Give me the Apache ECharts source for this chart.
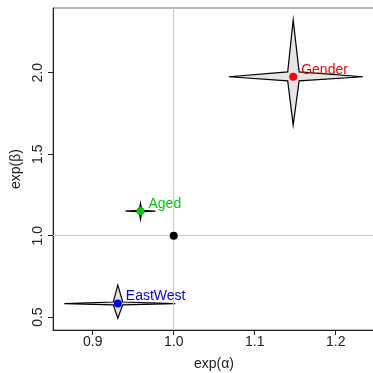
<!DOCTYPE html>
<html>
<head>
<meta charset="utf-8">
<script src="https://cdn.jsdelivr.net/npm/echarts@6/dist/echarts.min.js"></script>
<style>
  html, body { margin: 0; padding: 0; background: #fff; }
  #chart { width: 373px; height: 373px; }
</style>
</head>
<body>
<div id="chart"></div>
<script>
// estimates and interval ends
const names = ['Gender', 'Aged', 'EastWest'];
const alphaEst = [1.1475, 0.959, 0.931];
const betaEst = [1.975, 1.151, 0.583];
const alphaLo = [1.068, 0.9405, 0.865];
const alphaHi = [1.2336, 0.9775, 1.002];
const betaLo = [1.678, 1.100, 0.494];
const betaHi = [2.324, 1.198, 0.696];
const pointColors = ['#ff0000', '#00cd00', '#0000ff'];
const refPoint = [1, 1];
const xTicks = [0.9, 1.0, 1.1, 1.2];
const yTicks = [0.5, 1.0, 1.5, 2.0];

const FONT = '"Liberation Sans", Arial, sans-serif';
const chart = echarts.init(document.getElementById('chart'));

const starData = names.map((n, i) => [alphaEst[i], betaEst[i], alphaLo[i], alphaHi[i], betaLo[i], betaHi[i]]);
const pointData = names.map((n, i) => ({
  value: [alphaEst[i], betaEst[i]],
  name: n,
  itemStyle: { color: pointColors[i] },
  label: { color: pointColors[i] },
}));

// four-pointed star: tips at interval ends, waist near the estimate
function renderStar(params, api) {
  const c = api.coord([api.value(0), api.value(1)]);
  const l = api.coord([api.value(2), api.value(1)]);
  const r = api.coord([api.value(3), api.value(1)]);
  const b = api.coord([api.value(0), api.value(4)]);
  const t = api.coord([api.value(0), api.value(5)]);
  const k = 0.085;
  const dr = (r[0] - c[0]) * k, dl = (c[0] - l[0]) * k;
  const dt = (c[1] - t[1]) * k, db = (b[1] - c[1]) * k;
  return {
    type: 'polygon',
    shape: {
      points: [
        r, [c[0] + dr, c[1] - dt], t, [c[0] - dl, c[1] - dt],
        l, [c[0] - dl, c[1] + db], b, [c[0] + dr, c[1] + db],
      ],
    },
    style: { fill: '#e5e5e5', stroke: '#000', lineWidth: 1.2 },
  };
}

const dotStyle = { opacity: 1, borderWidth: 0 };

chart.setOption({
  animation: false,
  grid: {
    left: 53, top: 8, right: -2, bottom: 43,
    outerBoundsMode: 'none',
    containLabel: false,
    show: true, borderColor: '#777', borderWidth: 1,
  },
  xAxis: {
    type: 'value',
    min: 0.851, max: 1.2485,
    name: 'exp(α)',
    nameLocation: 'middle',
    nameGap: 27,
    nameTextStyle: { fontFamily: FONT, fontSize: 14, color: '#222' },
    axisLine: { show: true, onZero: false, lineStyle: { color: '#222', width: 1 } },
    axisTick: { show: true, length: 5, customValues: xTicks, lineStyle: { color: '#222' } },
    axisLabel: {
      customValues: xTicks,
      margin: 5,
      fontFamily: FONT, fontSize: 14, color: '#222',
      formatter: v => v.toFixed(1),
    },
    splitLine: { show: false },
  },
  yAxis: {
    type: 'value',
    min: 0.421, max: 2.397,
    name: 'exp(β)',
    nameLocation: 'middle',
    nameGap: 29,
    nameTextStyle: { fontFamily: FONT, fontSize: 14, color: '#222' },
    axisLine: { show: true, onZero: false, lineStyle: { color: '#222', width: 1 } },
    axisTick: { show: true, length: 5, customValues: yTicks, lineStyle: { color: '#222' } },
    axisLabel: {
      customValues: yTicks,
      rotate: 90,
      margin: 8,
      fontFamily: FONT, fontSize: 14, color: '#222',
      formatter: v => v.toFixed(1),
    },
    splitLine: { show: false },
  },
  series: [
    {
      type: 'scatter',
      data: [],
      silent: true,
      markLine: {
        silent: true,
        symbol: 'none',
        label: { show: false },
        lineStyle: { color: '#cccccc', width: 1, type: 'solid' },
        data: [{ xAxis: refPoint[0] }, { yAxis: refPoint[1] }],
      },
      z: 1,
    },
    {
      type: 'custom',
      renderItem: renderStar,
      data: starData,
      encode: { x: 0, y: 1 },
      z: 2,
    },
    {
      type: 'scatter',
      symbolSize: 8,
      itemStyle: dotStyle,
      data: [{ value: refPoint, itemStyle: { color: '#000' } }],
      z: 5,
    },
    {
      type: 'scatter',
      symbolSize: 8,
      itemStyle: dotStyle,
      data: pointData,
      label: {
        show: true,
        position: 'right',
        distance: 4,
        offset: [0, -7],
        formatter: p => p.name,
        fontFamily: FONT,
        fontSize: 14,
      },
      z: 5,
    },
  ],
});
</script>
</body>
</html>
